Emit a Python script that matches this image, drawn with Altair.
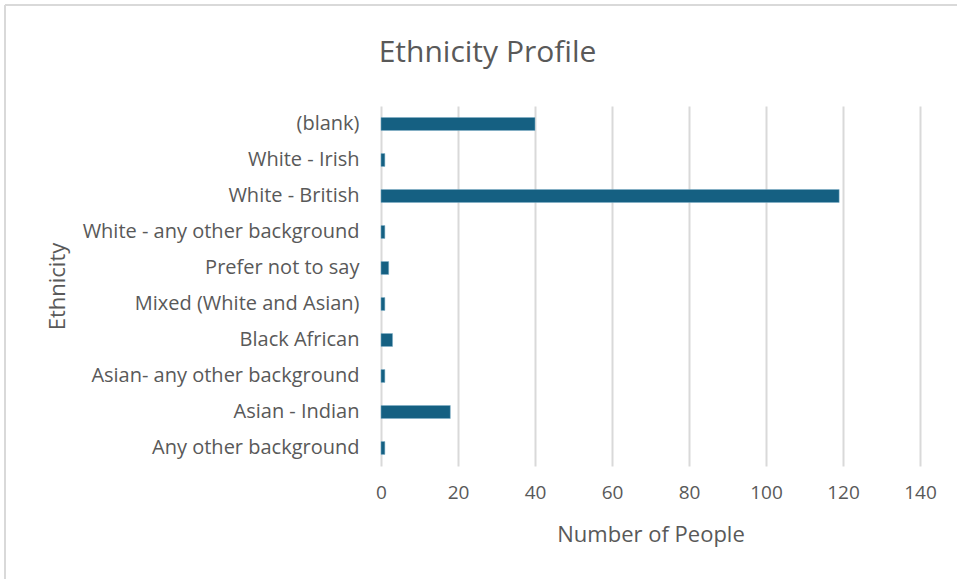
import altair as alt
import pandas as pd

categories = [
    "(blank)",
    "White - Irish",
    "White - British",
    "White - any other background",
    "Prefer not to say",
    "Mixed (White and Asian)",
    "Black African",
    "Asian- any other background",
    "Asian - Indian",
    "Any other background",
]
counts = [40, 1, 119, 1, 2, 1, 3, 1, 18, 1]
x_ticks = [0, 20, 40, 60, 80, 100, 120, 140]

df = pd.DataFrame({"Ethnicity": categories, "Count": counts})

FONT = "Open Sans"
GREY = "#595959"
BORDER = "#D9D9D9"

bars = alt.Chart(df).mark_bar(color="#156082", stroke="#7fb0c8", strokeWidth=0.5).encode(
    x=alt.X(
        "Count:Q",
        scale=alt.Scale(domain=[0, 140]),
        axis=alt.Axis(
            values=x_ticks,
            title="Number of People",
            grid=True,
            gridColor="#D9D9D9",
            gridWidth=2,
            domain=False,
            ticks=False,
            labelFlush=False,
            labelFontSize=19,
            labelColor=GREY,
            labelFont=FONT,
            labelPadding=17,
            titleFontSize=22,
            titleFont=FONT,
            titleColor=GREY,
            titleFontWeight="normal",
            titlePadding=22,
        ),
    ),
    y=alt.Y(
        "Ethnicity:N",
        sort=categories,
        scale=alt.Scale(paddingInner=0.64, paddingOuter=0.32),
        axis=alt.Axis(
            title="Ethnicity",
            domain=False,
            ticks=False,
            labelFontSize=20,
            labelColor=GREY,
            labelFont=FONT,
            labelPadding=22,
            labelLimit=400,
            titleFontSize=22,
            titleFont=FONT,
            titleColor=GREY,
            titleFontWeight="normal",
            titleAngle=-90,
            titleX=-324,
            titleY=180,
            titleAlign="center",
            titleBaseline="middle",
        ),
    ),
)

border_top = alt.Chart(df).mark_rule(color=BORDER, strokeWidth=2).encode(
    x=alt.value(-376), x2=alt.value(600), y=alt.value(-101)
)
border_left = alt.Chart(df).mark_rule(color=BORDER, strokeWidth=2).encode(
    x=alt.value(-376), y=alt.value(-101), y2=alt.value(500)
)

chart = alt.layer(bars, border_top, border_left).properties(
    width=539,
    height=360,
    background="white",
    title=alt.TitleParams(
        "Ethnicity Profile",
        fontSize=30,
        font=FONT,
        color=GREY,
        fontWeight="normal",
        anchor="middle",
        frame="group",
        baseline="alphabetic",
        offset=0,
        dx=-163,
        dy=88,
    ),
    autosize=alt.AutoSizeParams(type="none"),
    padding={"left": 381, "top": 106, "right": 37, "bottom": 113},
).configure_view(strokeWidth=0)

chart.save("out.html", embed_options={"renderer": "svg", "actions": False})
